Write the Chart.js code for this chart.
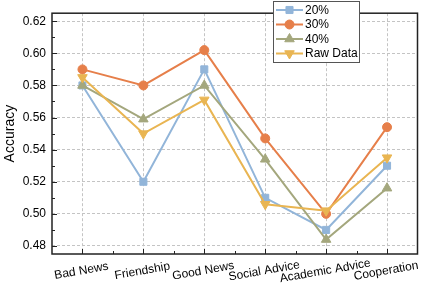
<!DOCTYPE html>
<html><head><meta charset="utf-8">
<script src="https://cdn.jsdelivr.net/npm/chart.js@4"></script>
<style>html,body{margin:0;padding:0;background:#fff}#wrap{width:424px;height:289px;position:relative}</style>
</head><body><div id="wrap"><canvas id="c"></canvas></div>
<script>
const categories = ['Bad News','Friendship','Good News','Social Advice','Academic Advice','Cooperation'];
const series20  = [0.580, 0.520, 0.590, 0.510, 0.490, 0.530];
const series30  = [0.590, 0.580, 0.602, 0.547, 0.500, 0.554];
const series40  = [0.580, 0.559, 0.580, 0.534, 0.484, 0.516];
const seriesRaw = [0.585, 0.550, 0.571, 0.506, 0.502, 0.535];
const seriesNames = ['20%', '30%', '40%', 'Raw Data'];
const yTicks = [0.48, 0.50, 0.52, 0.54, 0.56, 0.58, 0.60, 0.62];

const FONT = 'Liberation Sans, Arial, Helvetica, sans-serif';
Chart.defaults.font.family = FONT;

const styles = [
  {color:'#92b5d9', shape:'rect', radius:5, rotation:0, order:3},
  {color:'#e67f4a', shape:'circle', radius:4.5, rotation:0, order:2},
  {color:'#a4a77d', shape:'triangle', radius:5.5, rotation:0, order:1},
  {color:'#e9b552', shape:'triangle', radius:5.5, rotation:180, order:0}
];
const allSeries = [series20, series30, series40, seriesRaw];

const datasets = allSeries.map((d, i) => ({
  label: seriesNames[i],
  data: d,
  borderColor: styles[i].color,
  backgroundColor: styles[i].color,
  borderWidth: 2,
  pointStyle: styles[i].shape,
  pointRadius: styles[i].radius,
  pointRotation: styles[i].rotation,
  pointBorderColor: styles[i].color,
  pointBackgroundColor: styles[i].color,
  pointBorderWidth: 1,
  order: styles[i].order,
  tension: 0
}));

function marker(ctx, shape, x, y, r, rot) {
  ctx.beginPath();
  if (shape === 'circle') {
    ctx.arc(x, y, r, 0, Math.PI * 2);
  } else if (shape === 'rect') {
    const s = Math.SQRT1_2 * r;
    ctx.rect(x - s, y - s, 2 * s, 2 * s);
  } else {
    let rad = rot * Math.PI / 180;
    for (let k = 0; k < 3; k++) {
      const px = x + Math.sin(rad) * r, py = y - Math.cos(rad) * r;
      if (k === 0) ctx.moveTo(px, py); else ctx.lineTo(px, py);
      rad += 2 * Math.PI / 3;
    }
    ctx.closePath();
  }
  ctx.fill();
  ctx.stroke();
}

const deco = {
  id: 'deco',
  afterDraw(chart) {
    const ctx = chart.ctx;
    const a = chart.chartArea;
    const xs = chart.scales.x, ys = chart.scales.y;
    ctx.save();
    // frame
    ctx.strokeStyle = '#222';
    ctx.lineWidth = 1.5;
    ctx.strokeRect(a.left, a.top, a.right - a.left, a.bottom - a.top);
    // y ticks (inward)
    ctx.lineWidth = 1;
    ctx.beginPath();
    yTicks.forEach((v, i) => {
      const py = Math.round(ys.getPixelForValue(v)) + 0.5;
      ctx.moveTo(a.left, py); ctx.lineTo(a.left + 5, py);
      if (i < yTicks.length - 1) {
        const pm = Math.round(ys.getPixelForValue((v + yTicks[i + 1]) / 2)) + 0.5;
        ctx.moveTo(a.left, pm); ctx.lineTo(a.left + 3, pm);
      }
    });
    // x ticks (inward)
    categories.forEach((c, i) => {
      const px = Math.round(xs.getPixelForValue(i)) + 0.5;
      ctx.moveTo(px, a.bottom); ctx.lineTo(px, a.bottom - 5);
      if (i < categories.length - 1) {
        const pm = Math.round((xs.getPixelForValue(i) + xs.getPixelForValue(i + 1)) / 2) + 0.5;
        ctx.moveTo(pm, a.bottom); ctx.lineTo(pm, a.bottom - 3);
      }
    });
    ctx.stroke();
    // x labels (rotated, centered)
    ctx.fillStyle = '#000';
    ctx.font = '12px ' + FONT;
    ctx.textAlign = 'center';
    ctx.textBaseline = 'middle';
    categories.forEach((c, i) => {
      const px = xs.getPixelForValue(i) - 1;
      ctx.save();
      ctx.translate(px, a.bottom + 17);
      ctx.rotate(-10 * Math.PI / 180);
      ctx.fillText(c, 0, 0);
      ctx.restore();
    });
    // legend
    const lx = 273.5, ly = 1.5, lw = 86, lh = 61;
    ctx.fillStyle = '#fff';
    ctx.fillRect(lx, ly, lw, lh);
    ctx.strokeStyle = '#555';
    ctx.lineWidth = 1;
    ctx.strokeRect(lx, ly, lw, lh);
    ctx.textAlign = 'left';
    seriesNames.forEach((n, i) => {
      const yy = 10 + i * 14.5;
      const st = styles[i];
      ctx.strokeStyle = st.color;
      ctx.fillStyle = st.color;
      ctx.lineWidth = 2;
      ctx.beginPath();
      ctx.moveTo(276, yy); ctx.lineTo(303, yy);
      ctx.stroke();
      ctx.lineWidth = 1;
      marker(ctx, st.shape, 289.5, yy, st.radius, st.rotation);
      ctx.fillStyle = '#000';
      ctx.fillText(n, 305, yy + 0.5);
    });
    ctx.restore();
  }
};

new Chart(document.getElementById('c'), {
  type: 'line',
  data: { labels: categories, datasets },
  options: {
    responsive: true,
    maintainAspectRatio: false,
    animation: false,
    layout: { padding: { top: 1, right: 4, left: 0, bottom: 0 } },
    plugins: { legend: { display: false }, tooltip: { enabled: false } },
    scales: {
      x: {
        offset: true,
        afterFit: s => { s.height = 35; },
        ticks: { display: false },
        grid: { color: '#c4c4c4', lineWidth: 1, drawTicks: false },
        border: { display: false, dash: [3, 2] }
      },
      y: {
        min: 0.475, max: 0.625,
        afterBuildTicks: s => { s.ticks = yTicks.map(v => ({ value: v })); },
        afterFit: s => { s.width = 52; },
        ticks: { callback: v => Number(v).toFixed(2), color: '#000', font: { size: 12 }, padding: 6 },
        grid: { color: '#c4c4c4', lineWidth: 1, drawTicks: false },
        border: { display: false, dash: [3, 2] },
        title: { display: true, text: 'Accuracy', color: '#000', font: { size: 14 }, padding: { top: 2, bottom: 0 } }
      }
    }
  },
  plugins: [deco]
});
</script>
</body></html>
